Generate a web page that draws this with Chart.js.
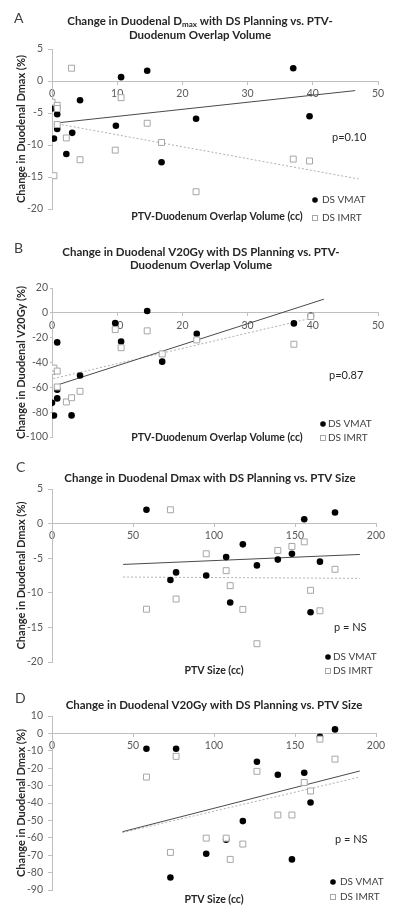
<!DOCTYPE html>
<html><head><meta charset="utf-8">
<script src="https://cdn.jsdelivr.net/npm/chart.js@4.4.0/dist/chart.umd.min.js"></script>
<style>
html,body{margin:0;padding:0;background:#fff;width:400px;height:919px;overflow:hidden}
.p{position:absolute;left:0;width:400px}
canvas{display:block}
</style></head><body>
<div class="p" style="top:0"><canvas id="cA" width="400" height="230"></canvas></div>
<div class="p" style="top:230px"><canvas id="cB" width="400" height="225"></canvas></div>
<div class="p" style="top:455px"><canvas id="cC" width="400" height="225"></canvas></div>
<div class="p" style="top:680px"><canvas id="cD" width="400" height="239"></canvas></div>
<script>
// ---------- Panel A: change in duodenal Dmax (%) vs PTV-duodenum overlap volume (cc)
const A_vmatX = [0, 0.3, 0.8, 0.8, 2.2, 3.1, 4.3, 9.8, 10.6, 14.6, 16.8, 22.1, 37.0, 39.5];
const A_vmatY = [-4.3, -9.0, -5.2, -7.5, -11.4, -8.1, -3.0, -7.0, 0.6, 1.6, -12.7, -5.9, 2.0, -5.5];
const A_imrtX = [0, 0.3, 0.8, 0.8, 0.8, 2.2, 3.0, 4.3, 9.7, 10.6, 14.6, 16.8, 22.1, 37.0, 39.5];
const A_imrtY = [-3.3, -14.8, -3.8, -4.3, -6.8, -8.9, 2.0, -12.3, -10.8, -2.6, -6.6, -9.6, -17.3, -12.2, -12.5];
const A_vmatFitX = [0.3, 46.5], A_vmatFitY = [-6.6, -1.5];
const A_imrtFitX = [0.3, 47.0], A_imrtFitY = [-6.6, -15.3];
const A_xTicks = [0, 50, 10], A_yTicks = [-20, 5, 5];   // min, max, step

// ---------- Panel B: change in duodenal V20Gy (%) vs PTV-duodenum overlap volume (cc)
const B_vmatX = [0, 0.3, 0.8, 0.8, 0.8, 3.0, 4.3, 9.7, 10.6, 14.6, 16.9, 22.2, 37.1, 39.7];
const B_vmatY = [-72.5, -82.7, -23.8, -62.0, -68.9, -82.6, -50.5, -8.3, -23.1, 1.5, -39.3, -16.8, -8.5, -2.3];
const B_imrtX = [0, 0.3, 0.8, 0.8, 2.2, 3.0, 4.3, 9.7, 10.6, 14.6, 16.9, 22.2, 37.1, 39.7];
const B_imrtY = [-47.2, -44.5, -46.9, -59.7, -71.8, -68.4, -63.2, -13.5, -28.1, -14.5, -33.1, -21.8, -25.3, -3.0];
const B_vmatFitX = [0.3, 41.7], B_vmatFitY = [-59.0, 11.0];
const B_imrtFitX = [0.2, 40.0], B_imrtFitY = [-53.0, -4.0];
const B_xTicks = [0, 50, 10], B_yTicks = [-100, 20, 20];

// ---------- Panel C: change in duodenal Dmax (%) vs PTV size (cc)
const C_vmatX = [58.3, 73.1, 76.6, 95.2, 107.5, 110.0, 117.8, 126.5, 139.4, 148.1, 155.7, 159.6, 165.4, 174.7];
const C_vmatY = [2.0, -8.15, -7.05, -7.5, -4.84, -11.4, -3.0, -6.04, -5.2, -4.36, 0.62, -12.8, -5.5, 1.6];
const C_imrtX = [58.3, 73.1, 76.6, 95.2, 107.5, 110.0, 117.8, 126.5, 139.4, 148.1, 155.7, 159.6, 165.4, 174.7];
const C_imrtY = [-12.37, 2.0, -10.9, -4.36, -6.8, -8.97, -12.4, -17.36, -3.88, -3.3, -2.64, -9.64, -12.6, -6.6];
const C_vmatFitX = [43.9, 190.0], C_vmatFitY = [-5.9, -4.46];
const C_imrtFitX = [43.9, 190.0], C_imrtFitY = [-7.72, -7.91];
const C_xTicks = [0, 200, 50], C_yTicks = [-20, 5, 5];

// ---------- Panel D: change in duodenal V20Gy (%) vs PTV size (cc)
const D_vmatX = [58.3, 73.1, 76.6, 95.2, 107.5, 117.8, 126.5, 139.4, 148.1, 155.7, 159.6, 165.4, 174.7];
const D_vmatY = [-8.8, -82.8, -8.8, -69.2, -61.1, -50.4, -16.3, -23.8, -72.4, -22.6, -39.7, -1.9, 2.3];
const D_imrtX = [58.3, 73.1, 76.6, 95.2, 107.5, 110.0, 117.8, 126.5, 139.4, 148.1, 155.7, 159.6, 165.4, 174.7];
const D_imrtY = [-25.1, -68.4, -13.2, -60.2, -60.2, -72.4, -63.6, -21.8, -46.9, -46.9, -28.2, -33.1, -3.3, -14.8];
const D_vmatFitX = [43.5, 190.0], D_vmatFitY = [-56.5, -21.6];
const D_imrtFitX = [43.5, 190.0], D_imrtFitY = [-57.0, -25.1];
const D_xTicks = [0, 200, 50], D_yTicks = [-90, 10, 10];

const seriesNames = ['DS VMAT', 'DS IMRT'];

// ---------- drawing helpers
const FONT = 'Lato, "Open Sans", sans-serif';
const zip = (xs, ys) => xs.map((x, i) => ({x: x, y: ys[i]}));

const annot = {
  id: 'annot',
  afterDraw(chart, args, o) {
    const ctx = chart.ctx;
    ctx.save();
    ctx.textBaseline = 'middle';
    // panel letter
    ctx.fillStyle = '#404040';
    ctx.font = '14px ' + FONT;
    ctx.textAlign = 'left';
    ctx.fillText(o.letter, o.letterX, o.letterY);
    // title (with optional subscript segments)
    const tf = 'bold 11.5px ' + FONT, sf = 'bold 8px ' + FONT;
    ctx.fillStyle = '#262626';
    o.title.forEach((segs, i) => {
      let total = 0;
      const w = segs.map(s => { ctx.font = s.sub ? sf : tf; const m = ctx.measureText(s.t).width; total += m; return m; });
      let x = o.titleCX - total / 2;
      segs.forEach((s, k) => {
        ctx.font = s.sub ? sf : tf;
        ctx.fillText(s.t, x, o.titleY[i] + (s.sub ? 3 : 0));
        x += w[k];
      });
    });
    // x-axis title
    ctx.font = 'bold 10.5px ' + FONT;
    ctx.textAlign = 'center';
    ctx.fillText(o.xTitle, o.xTitleX, o.xTitleY);
    // p value
    ctx.font = '11px ' + FONT;
    ctx.textAlign = 'left';
    ctx.fillText(o.pText, o.pX, o.pY);
    // legend
    const ds = chart.data.datasets;
    ctx.beginPath();
    ctx.arc(o.legX, o.legY[0], 2.8, 0, Math.PI * 2);
    ctx.fillStyle = ds[0].backgroundColor;
    ctx.fill();
    ctx.fillStyle = '#fff';
    ctx.strokeStyle = ds[1].borderColor;
    ctx.lineWidth = 1;
    ctx.fillRect(o.legX - 2.5, o.legY[1] - 2.5, 5, 5);
    ctx.strokeRect(o.legX - 2.5, o.legY[1] - 2.5, 5, 5);
    ctx.fillStyle = '#404040';
    ctx.font = '10px ' + FONT;
    ctx.fillText(ds[0].label, o.legTextX, o.legY[0]);
    ctx.fillText(ds[1].label, o.legTextX, o.legY[1]);
    ctx.restore();
  }
};

function panel(id, P) {
  const axisCol = '#bfbfbf', tickCol = '#595959';
  return new Chart(document.getElementById(id), {
    type: 'scatter',
    data: { datasets: [
      { label: seriesNames[0], data: zip(P.vx, P.vy), pointStyle: 'circle', pointRadius: 3.3,
        backgroundColor: '#000', borderColor: '#000', borderWidth: 0, order: 2 },
      { label: seriesNames[1], data: zip(P.ix, P.iy), pointStyle: 'rect', pointRadius: 4.2,
        backgroundColor: '#fff', borderColor: '#a6a6a6', borderWidth: 1, order: 1 },
      { type: 'line', label: 'VMAT trend', data: zip(P.vfx, P.vfy), borderColor: '#4a4a4a',
        borderWidth: 1, pointRadius: 0, fill: false, order: 3 },
      { type: 'line', label: 'IMRT trend', data: zip(P.ifx, P.ify), borderColor: '#b0b0b0',
        borderWidth: 1, borderDash: [2, 2], pointRadius: 0, fill: false, order: 3 }
    ]},
    options: {
      animation: false, responsive: false, devicePixelRatio: 1,
      layout: { padding: { left: 0, top: P.top, right: P.right, bottom: P.bottom } },
      plugins: { legend: { display: false }, tooltip: { enabled: false }, annot: P.annot },
      scales: {
        x: {
          type: 'linear', position: { y: 0 }, min: P.xt[0], max: P.xt[1],
          ticks: { stepSize: P.xt[2], color: tickCol, font: { family: FONT, size: 10.5 }, padding: 3, maxRotation: 0 },
          grid: { display: true, drawOnChartArea: false, color: axisCol, tickLength: 3 },
          border: { color: axisCol }
        },
        y: {
          type: 'linear', position: 'left', min: P.yt[0], max: P.yt[1],
          ticks: { stepSize: P.yt[2], color: tickCol, font: { family: FONT, size: 10.5 }, padding: P.yPad },
          grid: { display: true, drawOnChartArea: false, color: axisCol, tickLength: P.yTick },
          border: { color: axisCol },
          title: { display: true, text: P.yTitle, color: '#262626',
                   font: { family: FONT, size: 11, weight: 'bold' }, padding: { top: 15, bottom: 0 } },
          afterFit(s) { s.width = 52; }
        }
      }
    },
    plugins: [annot]
  });
}

panel('cA', {
  vx: A_vmatX, vy: A_vmatY, ix: A_imrtX, iy: A_imrtY,
  vfx: A_vmatFitX, vfy: A_vmatFitY, ifx: A_imrtFitX, ify: A_imrtFitY,
  xt: A_xTicks, yt: A_yTicks, top: 49, right: 22, bottom: 21, yPad: 5, yTick: 4,
  yTitle: 'Change in Duodenal Dmax (%)',
  annot: { letter: 'A', letterX: 14, letterY: 18,
    title: [[{t: 'Change in Duodenal D'}, {t: 'max', sub: true}, {t: ' with DS Planning vs. PTV-'}],
            [{t: 'Duodenum Overlap Volume'}]],
    titleCX: 200, titleY: [21, 35],
    xTitle: 'PTV-Duodenum Overlap Volume (cc)', xTitleX: 217, xTitleY: 217,
    pText: 'p=0.10', pX: 332, pY: 137,
    legX: 315, legY: [200, 218], legTextX: 322 }
});

panel('cB', {
  vx: B_vmatX, vy: B_vmatY, ix: B_imrtX, iy: B_imrtY,
  vfx: B_vmatFitX, vfy: B_vmatFitY, ifx: B_imrtFitX, ify: B_imrtFitY,
  xt: B_xTicks, yt: B_yTicks, top: 58, right: 22, bottom: 18, yPad: 2, yTick: 2,
  yTitle: 'Change in Duodenal V20Gy (%)',
  annot: { letter: 'B', letterX: 14, letterY: 18,
    title: [[{t: 'Change in Duodenal V20Gy with DS Planning vs. PTV-'}],
            [{t: 'Duodenum Overlap Volume'}]],
    titleCX: 201, titleY: [22, 35],
    xTitle: 'PTV-Duodenum Overlap Volume (cc)', xTitleX: 217, xTitleY: 208,
    pText: 'p=0.87', pX: 329, pY: 145,
    legX: 323, legY: [194, 208], legTextX: 328 }
});

panel('cC', {
  vx: C_vmatX, vy: C_vmatY, ix: C_imrtX, iy: C_imrtY,
  vfx: C_vmatFitX, vfy: C_vmatFitY, ifx: C_imrtFitX, ify: C_imrtFitY,
  xt: C_xTicks, yt: C_yTicks, top: 34, right: 24, bottom: 18, yPad: 5, yTick: 4,
  yTitle: 'Change in Duodenal Dmax (%)',
  annot: { letter: 'C', letterX: 16, letterY: 12,
    title: [[{t: 'Change in Duodenal Dmax with DS Planning vs. PTV Size'}]],
    titleCX: 210, titleY: [23],
    xTitle: 'PTV Size (cc)', xTitleX: 214, xTitleY: 216,
    pText: 'p = NS', pX: 334, pY: 172,
    legX: 328, legY: [202, 216], legTextX: 333 }
});

panel('cD', {
  vx: D_vmatX, vy: D_vmatY, ix: D_imrtX, iy: D_imrtY,
  vfx: D_vmatFitX, vfy: D_vmatFitY, ifx: D_imrtFitX, ify: D_imrtFitY,
  xt: D_xTicks, yt: D_yTicks, top: 36, right: 24, bottom: 29, yPad: 5, yTick: 4,
  yTitle: 'Change in Duodenal Dmax (%)',
  annot: { letter: 'D', letterX: 15, letterY: 18,
    title: [[{t: 'Change in Duodenal V20Gy with DS Planning vs. PTV Size'}]],
    titleCX: 214, titleY: [25],
    xTitle: 'PTV Size (cc)', xTitleX: 214, xTitleY: 220,
    pText: 'p = NS', pX: 335, pY: 159,
    legX: 333, legY: [202, 217], legTextX: 340 }
});
</script>
</body></html>
